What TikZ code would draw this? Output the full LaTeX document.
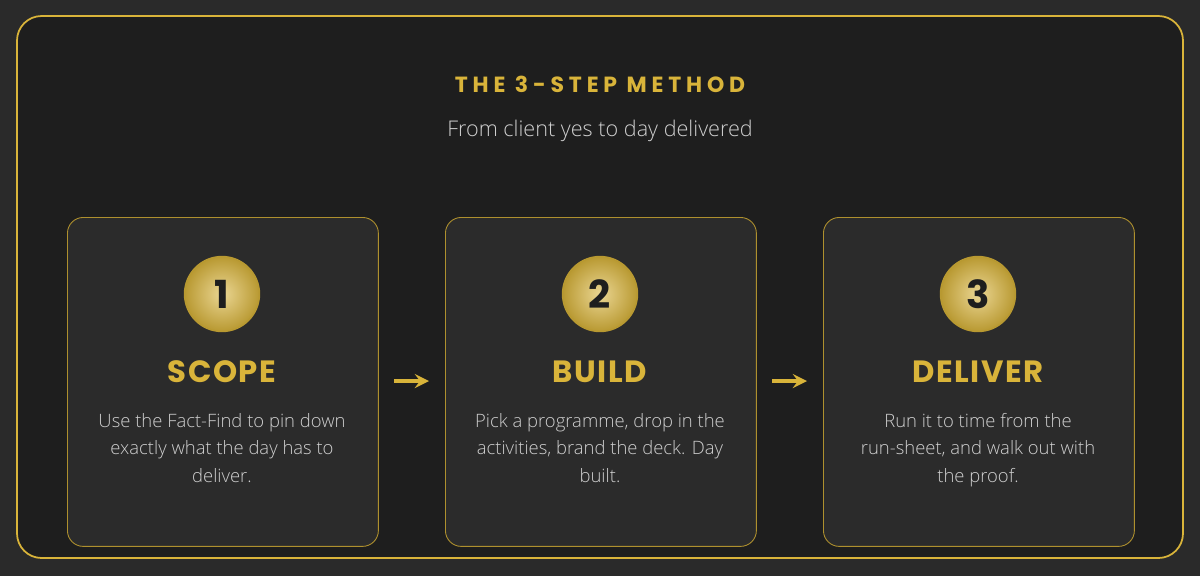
\documentclass[tikz,border=0pt]{standalone}
\usepackage{fontspec}
\setmainfont{Open Sans Light}
\newfontfamily\spacedfont{Poppins Bold}[LetterSpace=22]
\newfontfamily\stepfont{Poppins Bold}[LetterSpace=5]
\newfontfamily\boldfont{Poppins Bold}
\usetikzlibrary{positioning}
\definecolor{gold}{HTML}{D9B43A}
\definecolor{bgout}{HTML}{2A2A2A}
\definecolor{bgin}{HTML}{1E1E1E}
\definecolor{cardbg}{HTML}{2B2B2B}
\definecolor{txt}{HTML}{CFCFCF}
\begin{document}
\begin{tikzpicture}[x=0.02cm,y=-0.02cm,
card/.style={draw=gold!80!black,line width=0.5pt,fill=cardbg,rounded corners=9pt,minimum width=6.22cm,minimum height=6.58cm,anchor=north west},
num/.style={circle,minimum size=1.5cm,inner sep=0pt,draw=gold!85!black,line width=0.8pt,inner color=gold!55!white,outer color=gold!85!black,text=bgin,font=\boldfont\fontsize{22}{24}\selectfont},
steptitle/.style={text=gold,font=\stepfont\fontsize{17.5}{18}\selectfont},
body/.style={text=txt,align=center,font=\fontsize{10.5}{15.6}\selectfont},
every path/.style={>=stealth},node distance=1.4cm]
\fill[bgout] (0,0) rectangle (1200,576);
\draw[gold,line width=1pt,fill=bgin,rounded corners=14pt] (17,16) rectangle (1183,558);
\node[text=gold,font=\spacedfont\fontsize{12.5}{14}\selectfont] (title) at (600,84) {THE 3-STEP METHOD};
\node[text=txt,font=\fontsize{12.3}{14}\selectfont] (sub) at (600,131) {From client yes to day delivered};

\node[card] (c1) at (67,217) {};
\node[card] (c2) at (445,217) {};
\node[card] (c3) at (823,217) {};

\node[num] (n1) at (222,294) {1};
\node[num] (n2) at (600,294) {2};
\node[num] (n3) at (978,294) {3};

\node[steptitle] (s1) at (222,372) {SCOPE};
\node[steptitle] (s2) at (600,372) {BUILD};
\node[steptitle] (s3) at (978,372) {DELIVER};

\node[body,anchor=north] (b1) at (222,407) {Use the Fact-Find to pin down\\exactly what the day has to\\deliver.};
\node[body,anchor=north] (b2) at (600,407) {Pick a programme, drop in the\\activities, brand the deck. Day\\built.};
\node[body,anchor=north] (b3) at (978,407) {Run it to time from the\\run-sheet, and walk out with\\the proof.};

\coordinate (a1) at (394,381); \coordinate (a2) at (772,381);
\draw[->,gold,line width=2.5pt] (a1) -- ++(35,0);
\draw[->,gold,line width=2.5pt] (a2) -- ++(35,0);
\end{tikzpicture}
\end{document}
